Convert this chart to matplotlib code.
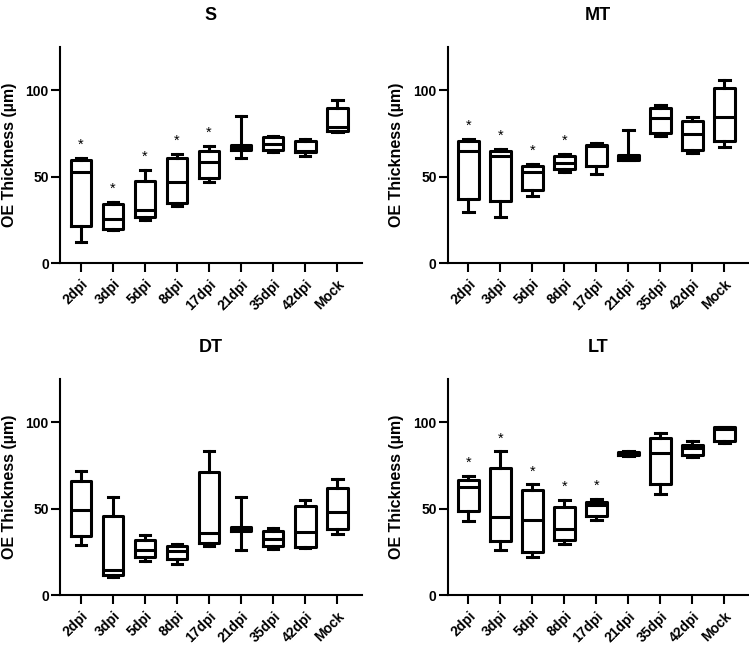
import numpy as np
import matplotlib.pyplot as plt

plt.rcParams['font.family'] = ['Liberation Sans', 'DejaVu Sans']
plt.rcParams['font.weight'] = 'bold'
plt.rcParams['axes.labelweight'] = 'bold'
plt.rcParams['axes.titleweight'] = 'bold'

groups = ['2dpi', '3dpi', '5dpi', '8dpi', '17dpi', '21dpi', '35dpi', '42dpi', 'Mock']
yticks = [0, 50, 100]

# box stats: min, q1, median, q3, max
s_min = [12.5, 19.0, 25.0, 33.0, 46.7, 61.0, 64.0, 61.8, 76.0]
s_q1 = [21.6, 20.0, 27.0, 35.0, 49.0, 65.6, 65.4, 64.3, 76.6]
s_med = [52.5, 25.7, 31.0, 47.0, 58.3, 67.4, 69.0, 65.0, 78.5]
s_q3 = [59.6, 34.0, 47.7, 61.0, 65.0, 68.3, 72.8, 70.8, 89.8]
s_max = [61.0, 35.5, 54.0, 63.0, 67.6, 85.0, 73.7, 71.8, 94.0]
s_star = [1, 1, 1, 1, 1, 0, 0, 0, 0]

mt_min = [29.5, 26.6, 39.0, 52.5, 51.5, 59.5, 73.6, 63.5, 67.2]
mt_q1 = [37.0, 35.7, 42.5, 54.4, 56.0, 59.7, 75.3, 65.6, 70.7]
mt_med = [64.7, 61.8, 52.7, 57.9, 67.5, 61.2, 83.6, 74.9, 84.6]
mt_q3 = [70.8, 64.7, 56.0, 61.8, 68.1, 62.4, 89.8, 81.9, 101.4]
mt_max = [71.8, 66.0, 57.3, 63.3, 69.3, 76.8, 91.5, 84.4, 106.0]
mt_star = [1, 1, 1, 1, 0, 0, 0, 0, 0]

dt_min = [28.8, 10.4, 20.0, 18.1, 28.6, 26.4, 26.8, 27.0, 35.3]
dt_q1 = [34.4, 11.8, 22.0, 21.0, 30.1, 36.9, 28.6, 27.8, 38.2]
dt_med = [49.4, 14.7, 26.3, 25.3, 35.9, 37.8, 32.6, 36.7, 47.9]
dt_q3 = [66.0, 45.6, 32.0, 28.6, 71.0, 39.4, 36.9, 51.7, 62.2]
dt_max = [71.6, 56.8, 34.7, 29.7, 83.0, 56.8, 39.0, 55.0, 67.2]
dt_star = [0, 0, 0, 0, 0, 0, 0, 0, 0]

lt_min = [43.0, 26.0, 22.2, 29.5, 43.2, 80.3, 58.5, 80.1, 87.8]
lt_q1 = [48.5, 31.1, 25.1, 31.7, 46.0, 80.7, 64.5, 81.0, 89.2]
lt_med = [62.5, 45.2, 43.2, 38.4, 52.3, 81.5, 82.2, 85.1, 95.8]
lt_q3 = [66.8, 73.4, 61.0, 51.0, 54.0, 82.5, 90.7, 87.0, 97.3]
lt_max = [68.7, 83.0, 64.0, 54.8, 55.4, 83.0, 93.8, 89.2, 97.3]
lt_star = [1, 1, 1, 1, 1, 0, 0, 0, 0]


def draw_panel(ax, title, mins, q1, med, q3, maxs, stars):
    stats = []
    for i in range(len(groups)):
        stats.append({'whislo': mins[i], 'q1': q1[i], 'med': med[i],
                      'q3': q3[i], 'whishi': maxs[i], 'fliers': []})
    lw = 2.2
    pos = np.arange(len(groups))
    ax.bxp(stats, positions=pos, widths=0.64, showfliers=False,
           boxprops=dict(color='black', linewidth=lw),
           whiskerprops=dict(color='black', linewidth=lw),
           capprops=dict(color='black', linewidth=lw),
           medianprops=dict(color='black', linewidth=lw))
    for i in range(len(groups)):
        if stars[i]:
            ax.text(pos[i], maxs[i] + 3.5, '*', ha='center', va='bottom',
                    fontsize=10.5, fontweight='normal')
    ax.set_xlim(-0.65, 8.76)
    ax.set_ylim(0, 125)
    ax.set_yticks(yticks)
    ax.set_xticks(pos)
    ax.set_xticklabels(groups, rotation=45, ha='right', rotation_mode='anchor')
    ax.set_ylabel('OE Thickness (µm)', fontsize=11.5, labelpad=6.5)
    ax.set_title(title, fontsize=13, pad=19)
    for side in ['top', 'right']:
        ax.spines[side].set_visible(False)
    for side in ['left', 'bottom']:
        ax.spines[side].set_linewidth(1.5)
    ax.tick_params(width=1.5, length=6.5, labelsize=10)
    ax.tick_params(axis='y', pad=1.5)


fig = plt.figure(figsize=(7.49, 6.54), dpi=100)
ax1 = fig.add_axes([0.080, 0.5974, 0.403, 0.3312])
ax2 = fig.add_axes([0.5977, 0.5974, 0.402, 0.3312])
ax3 = fig.add_axes([0.080, 0.0898, 0.403, 0.3311])
ax4 = fig.add_axes([0.5977, 0.0898, 0.402, 0.3311])

draw_panel(ax1, 'S', s_min, s_q1, s_med, s_q3, s_max, s_star)
draw_panel(ax2, 'MT', mt_min, mt_q1, mt_med, mt_q3, mt_max, mt_star)
draw_panel(ax3, 'DT', dt_min, dt_q1, dt_med, dt_q3, dt_max, dt_star)
draw_panel(ax4, 'LT', lt_min, lt_q1, lt_med, lt_q3, lt_max, lt_star)

fig.savefig('out.png', dpi=100)
